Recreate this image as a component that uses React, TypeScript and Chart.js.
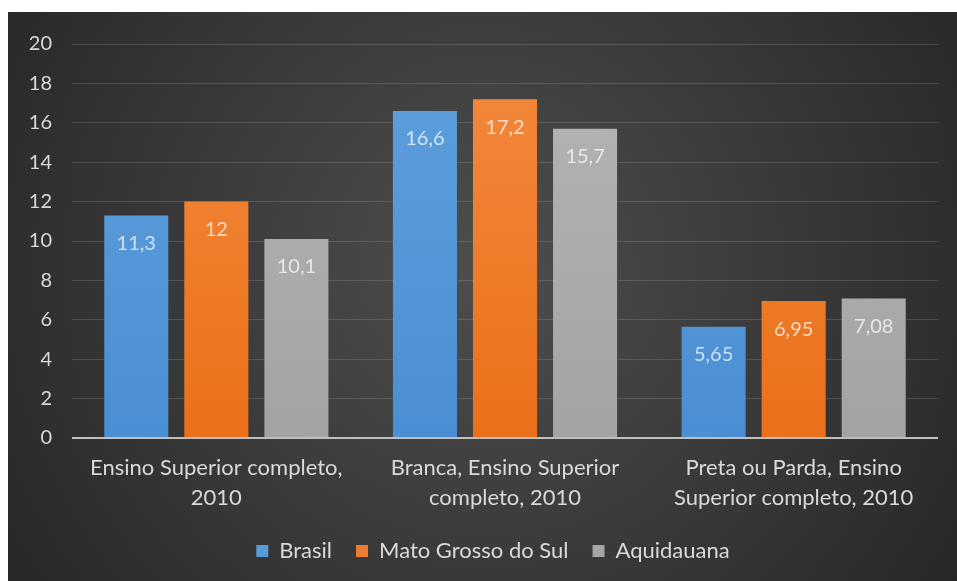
import React, { useEffect, useRef } from "react";
import { Chart, registerables } from "chart.js";

Chart.register(...registerables);

const categories: string[][] = [
  ["Ensino Superior completo,", "2010"],
  ["Branca, Ensino Superior", "completo, 2010"],
  ["Preta ou Parda, Ensino", "Superior completo, 2010"],
];
const seriesNames = ["Brasil", "Mato Grosso do Sul", "Aquidauana"];
const brasil = [11.3, 16.6, 5.65];
const matoGrossoDoSul = [12, 17.2, 6.95];
const aquidauana = [10.1, 15.7, 7.08];
const valueLabels = [
  ["11,3", "16,6", "5,65"],
  ["12", "17,2", "6,95"],
  ["10,1", "15,7", "7,08"],
];
const yTicks = [0, 2, 4, 6, 8, 10, 12, 14, 16, 18, 20];

const FONT = "Lato, 'Open Sans', sans-serif";
const TEXT = "#d9d9d9";

const colorStops: [string, string][] = [
  ["#5fa0dc", "#4a8fd3"],
  ["#f38a3e", "#ea7019"],
  ["#b5b5b5", "#a3a3a3"],
];
const legendColors = ["#5b9bd5", "#ed7d31", "#a5a5a5"];

function gradFor(idx: number) {
  return (ctx: any) => {
    const chart = ctx.chart;
    const area = chart.chartArea;
    if (!area) return legendColors[idx];
    const g = chart.ctx.createLinearGradient(0, area.top, 0, area.bottom);
    g.addColorStop(0, colorStops[idx][0]);
    g.addColorStop(1, colorStops[idx][1]);
    return g;
  };
}

const bgPlugin = {
  id: "bgPlugin",
  beforeDraw(chart: any) {
    const { ctx, width, height } = chart;
    ctx.save();
    const g = ctx.createRadialGradient(width * 0.5, height * 0.45, 0, width * 0.5, height * 0.45, width * 0.62);
    g.addColorStop(0, "#4e4e4e");
    g.addColorStop(1, "#262626");
    ctx.fillStyle = g;
    ctx.fillRect(0, 0, width, height);
    ctx.restore();
  },
};

const legendShift = {
  id: "legendShift",
  afterLayout(chart: any) {
    const lg = chart.legend;
    if (lg) {
      lg.left += 20;
      lg.right += 20;
    }
  },
};

const labelPlugin = {
  id: "labelPlugin",
  afterDatasetsDraw(chart: any) {
    const { ctx } = chart;
    ctx.save();
    ctx.font = `20px ${FONT}`;
    ctx.textAlign = "center";
    ctx.textBaseline = "middle";
    ctx.fillStyle = "rgba(255,255,255,0.72)";
    chart.data.datasets.forEach((ds: any, di: number) => {
      const meta = chart.getDatasetMeta(di);
      meta.data.forEach((el: any, i: number) => {
        ctx.fillText(valueLabels[di][i], el.x, el.y + 28);
      });
    });
    ctx.restore();
  },
};

export default function App() {
  const ref = useRef<HTMLCanvasElement | null>(null);
  useEffect(() => {
    if (!ref.current) return;
    const series = [brasil, matoGrossoDoSul, aquidauana];
    const chart = new Chart(ref.current, {
      type: "bar",
      data: {
        labels: categories,
        datasets: series.map((d, i) => ({
          label: seriesNames[i],
          data: d,
          backgroundColor: gradFor(i),
          borderWidth: 0,
          categoryPercentage: 0.832,
          barPercentage: 0.8,
        })),
      },
      options: {
        responsive: false,
        animation: false,
        layout: { padding: { top: 29, right: 19, left: 0, bottom: 9 } },
        plugins: {
          tooltip: { enabled: false },
          legend: {
            position: "bottom",
            labels: {
              color: TEXT,
              font: { family: FONT, size: 22 },
              boxWidth: 12,
              boxHeight: 12,
              padding: 24,
              generateLabels: () =>
                seriesNames.map((n, i) => ({
                  text: n,
                  fillStyle: legendColors[i],
                  strokeStyle: legendColors[i],
                  lineWidth: 0,
                  fontColor: TEXT,
                  datasetIndex: i,
                  hidden: false,
                })),
            },
          },
        },
        scales: {
          x: {
            grid: { display: false, drawTicks: false },
            border: { display: false },
            ticks: {
              color: TEXT,
              font: { family: FONT, size: 22, lineHeight: 1.36 },
              padding: 15,
              maxRotation: 0,
              autoSkip: false,
            },
            afterFit: (s: any) => {
              s.height = 78;
            },
          },
          y: {
            min: 0,
            max: 20,
            afterBuildTicks: (s: any) => {
              s.ticks = yTicks.map((v) => ({ value: v }));
            },
            grid: {
              drawTicks: false,
              color: (c: any) => (c.tick && c.tick.value === 0 ? "#bfbfbf" : "rgba(255,255,255,0.13)"),
              lineWidth: (c: any) => (c.tick && c.tick.value === 0 ? 2 : 1),
            },
            border: { display: false },
            ticks: {
              color: TEXT,
              font: { family: FONT, size: 20 },
              padding: 20,
            },
            afterFit: (s: any) => {
              s.width = 64;
            },
          },
        },
      },
      plugins: [bgPlugin, legendShift, labelPlugin],
    });
    return () => chart.destroy();
  }, []);
  return (
    <div>
      <canvas
        ref={ref}
        width={949}
        height={569}
        style={{ position: "fixed", left: 8, top: 12, width: 949, height: 569, display: "block" }}
      />
    </div>
  );
}
